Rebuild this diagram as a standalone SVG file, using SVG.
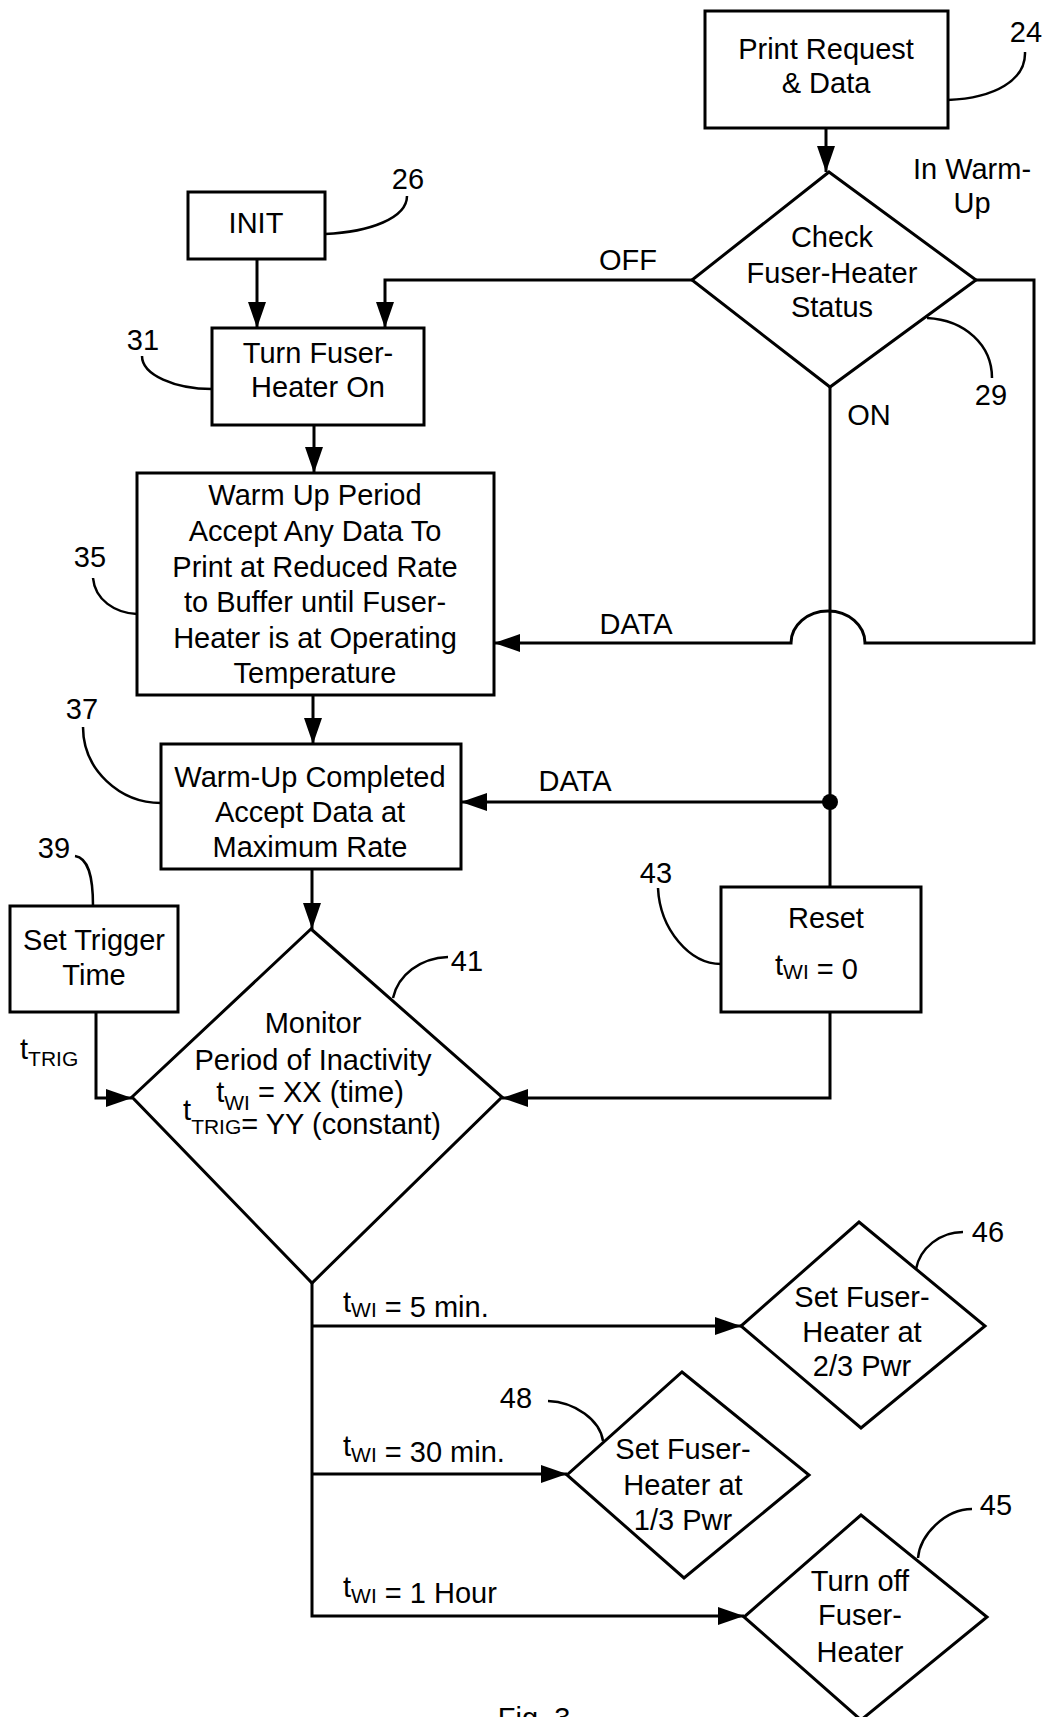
<svg xmlns="http://www.w3.org/2000/svg" width="1046" height="1717" viewBox="0 0 1046 1717">
<style>
.box{fill:none;stroke:#000;stroke-width:3}
.ln{fill:none;stroke:#000;stroke-width:3}
.ld{fill:none;stroke:#000;stroke-width:2.5}
text{font-family:"Liberation Sans",Arial,sans-serif;font-size:29px;fill:#000}
.c{text-anchor:middle}
.sub{font-size:21px}
</style>
<defs>
<marker id="arr" viewBox="0 0 26 18" refX="26" refY="9" markerWidth="26" markerHeight="18" markerUnits="userSpaceOnUse" orient="auto">
<path d="M0,0 L26,9 L0,18 Z" fill="#000"/>
</marker>
</defs>
<rect x="0" y="0" width="1046" height="1717" fill="#fff"/>

<g id="connectors">
<path class="ln" d="M826,128 V172" marker-end="url(#arr)"/>
<path class="ln" d="M692,280 H385 V328" marker-end="url(#arr)"/>
<path class="ln" d="M257,259 V328" marker-end="url(#arr)"/>
<path class="ln" d="M314,425 V473" marker-end="url(#arr)"/>
<path class="ln" d="M976,280 H1034 V643 H865 A37,32 0 0 0 791,643 H494" marker-end="url(#arr)"/>
<path class="ln" d="M830,387 V887"/>
<path class="ln" d="M830,802 H461" marker-end="url(#arr)"/>
<circle cx="830" cy="802" r="8" fill="#000"/>
<path class="ln" d="M313,695 V744" marker-end="url(#arr)"/>
<path class="ln" d="M312,869 V929" marker-end="url(#arr)"/>
<path class="ln" d="M96,1012 V1098 H132" marker-end="url(#arr)"/>
<path class="ln" d="M830,1012 V1098 H502" marker-end="url(#arr)"/>
<path class="ln" d="M312,1283 V1616 H744" marker-end="url(#arr)"/>
<path class="ln" d="M312,1326 H741" marker-end="url(#arr)"/>
<path class="ln" d="M312,1474 H567" marker-end="url(#arr)"/>
<text class="c" x="628" y="270">OFF</text>
<text class="c" x="972" y="179">In Warm-</text>
<text class="c" x="972" y="213">Up</text>
<text class="c" x="869" y="425">ON</text>
<text class="c" x="636" y="634">DATA</text>
<text class="c" x="575" y="791">DATA</text>
<text x="20" y="1066"><tspan dy="-7">t</tspan><tspan class="sub" dy="7">TRIG</tspan></text>
<text x="343" y="1317"><tspan dy="-5">t</tspan><tspan class="sub" dy="5">WI</tspan><tspan> = 5 min.</tspan></text>
<text x="343" y="1462"><tspan dy="-6">t</tspan><tspan class="sub" dy="6">WI</tspan><tspan> = 30 min.</tspan></text>
<text x="343" y="1603"><tspan dy="-6">t</tspan><tspan class="sub" dy="6">WI</tspan><tspan> = 1 Hour</tspan></text>
</g>

<g id="n24">
<rect class="box" x="705" y="11" width="243" height="117"/>
<text class="c" x="826" y="59">Print Request</text>
<text class="c" x="826" y="93">&amp; Data</text>
<path class="ld" d="M948,100 C995,98 1026,80 1025,52"/>
<text class="c" x="1026" y="42">24</text>
</g>

<g id="n26">
<rect class="box" x="188" y="192" width="137" height="67"/>
<text class="c" x="256" y="233">INIT</text>
<path class="ld" d="M325,234 C370,232 407,218 407,196"/>
<text class="c" x="408" y="189">26</text>
</g>

<g id="n29">
<path class="box" d="M829,172 L976,280 L830,387 L692,280 Z"/>
<text class="c" x="832" y="247">Check</text>
<text class="c" x="832" y="283">Fuser-Heater</text>
<text class="c" x="832" y="317">Status</text>
<path class="ld" d="M927,318 C965,320 992,345 992,378"/>
<text class="c" x="991" y="405">29</text>
</g>

<g id="n31">
<rect class="box" x="212" y="328" width="212" height="97"/>
<text class="c" x="318" y="363">Turn Fuser-</text>
<text class="c" x="318" y="397">Heater On</text>
<path class="ld" d="M212,389 C175,389 142,375 142,356"/>
<text class="c" x="143" y="350">31</text>
</g>

<g id="n35">
<rect class="box" x="137" y="473" width="357" height="222"/>
<text class="c" x="315" y="505">Warm Up Period</text>
<text class="c" x="315" y="541">Accept Any Data To</text>
<text class="c" x="315" y="577">Print at Reduced Rate</text>
<text class="c" x="315" y="612">to Buffer until Fuser-</text>
<text class="c" x="315" y="648">Heater is at Operating</text>
<text class="c" x="315" y="683">Temperature</text>
<path class="ld" d="M93,578 C95,600 115,613 137,614"/>
<text class="c" x="90" y="567">35</text>
</g>

<g id="n37">
<rect class="box" x="161" y="744" width="300" height="125"/>
<text class="c" x="310" y="787">Warm-Up Completed</text>
<text class="c" x="310" y="822">Accept Data at</text>
<text class="c" x="310" y="857">Maximum Rate</text>
<path class="ld" d="M83,727 C83,770 120,803 161,803"/>
<text class="c" x="82" y="719">37</text>
</g>

<g id="n39">
<rect class="box" x="10" y="906" width="168" height="106"/>
<text class="c" x="94" y="950">Set Trigger</text>
<text class="c" x="94" y="985">Time</text>
<path class="ld" d="M75,856 C88,858 93,875 93,906"/>
<text class="c" x="54" y="858">39</text>
</g>

<g id="n41">
<path class="box" d="M311,929 L502,1097 L312,1283 L132,1097 Z"/>
<text class="c" x="313" y="1033">Monitor</text>
<text class="c" x="313" y="1070">Period of Inactivity</text>
<text class="c" x="310" y="1102"><tspan>t</tspan><tspan class="sub" dy="8">WI</tspan><tspan dy="-8"> = XX (time)</tspan></text>
<text class="c" x="312" y="1134"><tspan dy="-14">t</tspan><tspan class="sub" dy="14">TRIG</tspan><tspan>= YY (constant)</tspan></text>
<path class="ld" d="M393,998 C398,975 420,958 448,957"/>
<text class="c" x="467" y="971">41</text>
</g>

<g id="n43">
<rect class="box" x="721" y="887" width="200" height="125"/>
<text class="c" x="826" y="928">Reset</text>
<text x="775" y="979"><tspan dy="-4">t</tspan><tspan class="sub" dy="4">WI</tspan><tspan> = 0</tspan></text>
<path class="ld" d="M658,888 C660,930 690,964 721,964"/>
<text class="c" x="656" y="883">43</text>
</g>

<g id="n46">
<path class="box" d="M859,1222 L985,1326 L861,1428 L741,1326 Z"/>
<text class="c" x="862" y="1307">Set Fuser-</text>
<text class="c" x="862" y="1342">Heater at</text>
<text class="c" x="862" y="1376">2/3 Pwr</text>
<path class="ld" d="M916,1269 C920,1248 940,1232 963,1232"/>
<text class="c" x="988" y="1242">46</text>
</g>

<g id="n48">
<path class="box" d="M682,1372 L809,1475 L684,1578 L567,1475 Z"/>
<text class="c" x="683" y="1459">Set Fuser-</text>
<text class="c" x="683" y="1495">Heater at</text>
<text class="c" x="683" y="1530">1/3 Pwr</text>
<path class="ld" d="M548,1401 C575,1402 600,1420 603,1441"/>
<text class="c" x="516" y="1408">48</text>
</g>

<g id="n45">
<path class="box" d="M861,1515 L987,1617 L861,1720 L744,1617 Z"/>
<text class="c" x="860" y="1591">Turn off</text>
<text class="c" x="860" y="1625">Fuser-</text>
<text class="c" x="860" y="1662">Heater</text>
<path class="ld" d="M918,1558 C920,1535 945,1509 972,1509"/>
<text class="c" x="996" y="1515">45</text>
</g>

<text class="c" x="534" y="1728">Fig. 3</text>
</svg>
